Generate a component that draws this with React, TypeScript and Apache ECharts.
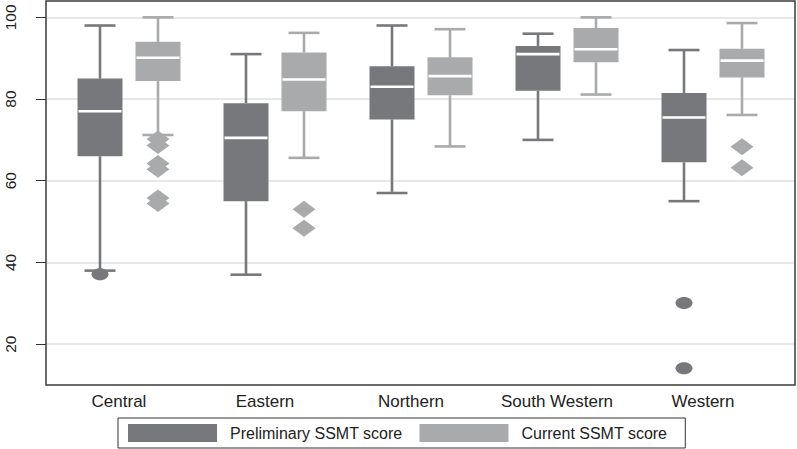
import React, { useEffect, useRef } from "react";
import * as echarts from "echarts";

const categories = ["Central", "Eastern", "Northern", "South Western", "Western"];
const seriesNames = ["Preliminary SSMT score", "Current SSMT score"];
// [min, q1, median, q3, max]
const preliminary = [
  [38, 66, 77, 85, 98],
  [37, 55, 70.5, 79, 91],
  [57, 75, 83, 88, 98],
  [70, 82, 91, 93, 96],
  [55, 64.5, 75.5, 81.5, 92],
];
const current = [
  [71.2, 84.4, 90.1, 94, 100],
  [65.6, 77, 84.8, 91.4, 96.2],
  [68.4, 80.9, 85.6, 90.2, 97.1],
  [81.1, 89, 92.2, 97.4, 100],
  [76.1, 85.3, 89.4, 92.3, 98.6],
];
const preliminaryOutliers = [
  [0, 37.1],
  [4, 30.1],
  [4, 14.1],
];
const currentOutliers = [
  [0, 70.2],
  [0, 68.6],
  [0, 64.2],
  [0, 62.8],
  [0, 55.8],
  [0, 54.4],
  [1, 53],
  [1, 48.4],
  [4, 68.3],
  [4, 63.2],
];
const yTicks = [20, 40, 60, 80, 100];

const DARK = "#77787b";
const LIGHT = "#a9aaac";
const FONT = "'Liberation Sans', Arial, sans-serif";

function boxRender(offset: number, color: string) {
  return (params: any, api: any) => {
    const i = api.value(0);
    const pt = (k: number) => api.coord([i, api.value(k)]);
    const cx = pt(3)[0] + offset;
    const yMin = pt(1)[1];
    const yQ1 = pt(2)[1];
    const yMed = pt(3)[1];
    const yQ3 = pt(4)[1];
    const yMax = pt(5)[1];
    const bw = 45;
    const cw = 31;
    const lw = 2.6;
    const ls = { stroke: color, lineWidth: lw };
    return {
      type: "group",
      children: [
        { type: "line", shape: { x1: cx, y1: yMax, x2: cx, y2: yQ3 }, style: ls },
        { type: "line", shape: { x1: cx, y1: yQ1, x2: cx, y2: yMin }, style: ls },
        { type: "line", shape: { x1: cx - cw / 2, y1: yMax, x2: cx + cw / 2, y2: yMax }, style: ls },
        { type: "line", shape: { x1: cx - cw / 2, y1: yMin, x2: cx + cw / 2, y2: yMin }, style: ls },
        { type: "rect", shape: { x: cx - bw / 2, y: yQ3, width: bw, height: yQ1 - yQ3 }, style: { fill: color } },
        {
          type: "line",
          shape: { x1: cx - bw / 2 + 1, y1: yMed, x2: cx + bw / 2 - 1, y2: yMed },
          style: { stroke: "#ffffff", lineWidth: 2.6 },
        },
      ],
    };
  };
}

function outlierRender(offset: number, color: string, diamond: boolean) {
  return (params: any, api: any) => {
    const p = api.coord([api.value(0), api.value(1)]);
    const cx = p[0] + offset;
    const cy = p[1];
    if (diamond) {
      const hw = 11.5;
      const hh = 8.5;
      return {
        type: "polygon",
        shape: { points: [[cx, cy - hh], [cx + hw, cy], [cx, cy + hh], [cx - hw, cy]] },
        style: { fill: color },
      };
    }
    return { type: "ellipse", shape: { cx, cy, rx: 8.5, ry: 6 }, style: { fill: color } };
  };
}

export default function App() {
  const ref = useRef<HTMLDivElement>(null);
  useEffect(() => {
    if (!ref.current) return;
    const chart = echarts.init(ref.current, null, { renderer: "svg" });
    const prelimData = preliminary.map((s, i) => [i, ...s]);
    const currData = current.map((s, i) => [i, ...s]);
    chart.setOption({
      animation: false,
      backgroundColor: "#ffffff",
      textStyle: { fontFamily: FONT },
      grid: [
        { left: 46, width: 749, top: 1, height: 384 },
        { left: 56, width: 730, top: 1, height: 384 },
      ],
      xAxis: [
        { type: "value", gridIndex: 0, show: false, min: 0, max: 1 },
        {
          type: "category",
          gridIndex: 1,
          data: categories,
          axisLine: { show: false },
          axisTick: { show: false },
          splitLine: { show: false },
          axisLabel: {
            fontSize: 17,
            color: "#222",
            margin: 8,
            padding: [0, 20, 0, 0],
            fontFamily: FONT,
          },
        },
      ],
      yAxis: [
        {
          type: "value",
          gridIndex: 0,
          min: 10,
          max: 104,
          axisLine: { show: false },
          axisTick: {
            show: true,
            length: 10,
            customValues: yTicks,
            lineStyle: { color: "#333", width: 1 },
          },
          axisLabel: {
            customValues: yTicks,
            rotate: 90,
            margin: 28,
            fontSize: 15.5,
            color: "#222",
            fontFamily: FONT,
          },
          splitLine: { show: true, lineStyle: { color: "#e0e0e0", width: 1.5 } },
        },
        { type: "value", gridIndex: 1, min: 10, max: 104, show: false },
      ],
      legend: {
        left: 118,
        top: 418,
        orient: "horizontal",
        data: seriesNames.map((n) => ({ name: n, icon: "rect" })),
        itemWidth: 89,
        itemHeight: 18,
        itemGap: 17,
        padding: [6, 18, 6, 10],
        borderColor: "#333",
        borderWidth: 1,
        selectedMode: false,
        textStyle: { fontSize: 16, color: "#222", fontFamily: FONT, padding: [0, 0, 0, 8] },
      },
      graphic: [
        {
          type: "rect",
          z: 100,
          shape: { x: 46, y: 1, width: 749, height: 384 },
          style: { fill: "none", stroke: "#3a3a3a", lineWidth: 1.5 },
          silent: true,
        },
      ],
      series: [
        {
          type: "custom",
          name: seriesNames[0],
          xAxisIndex: 1,
          yAxisIndex: 1,
          itemStyle: { color: DARK },
          encode: { x: 0, y: [1, 2, 3, 4, 5] },
          data: prelimData,
          renderItem: boxRender(-29, DARK),
        },
        {
          type: "custom",
          name: seriesNames[1],
          xAxisIndex: 1,
          yAxisIndex: 1,
          itemStyle: { color: LIGHT },
          encode: { x: 0, y: [1, 2, 3, 4, 5] },
          data: currData,
          renderItem: boxRender(29, LIGHT),
        },
        {
          type: "custom",
          name: "prelim-outliers",
          xAxisIndex: 1,
          yAxisIndex: 1,
          itemStyle: { color: DARK },
          encode: { x: 0, y: 1 },
          data: preliminaryOutliers,
          renderItem: outlierRender(-29, DARK, false),
        },
        {
          type: "custom",
          name: "current-outliers",
          xAxisIndex: 1,
          yAxisIndex: 1,
          itemStyle: { color: LIGHT },
          encode: { x: 0, y: 1 },
          data: currentOutliers,
          renderItem: outlierRender(29, LIGHT, true),
        },
      ],
    });
    return () => chart.dispose();
  }, []);
  return (
    <div
      ref={ref}
      style={{ position: "fixed", left: 0, top: 0, width: 797, height: 449 }}
    />
  );
}
